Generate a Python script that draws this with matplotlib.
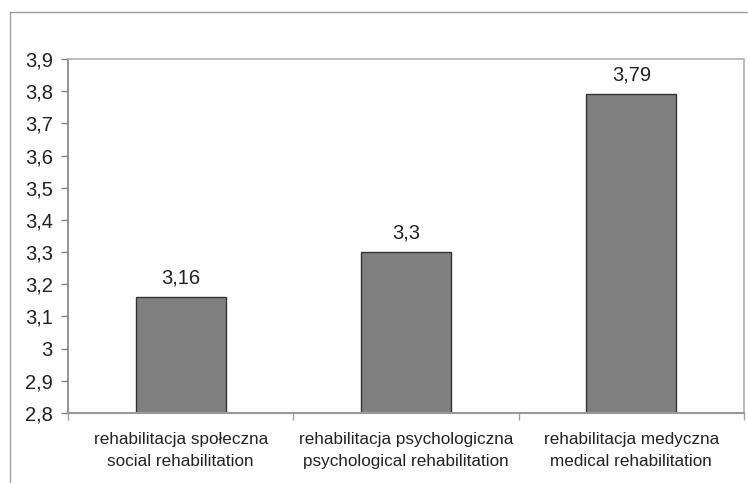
import matplotlib
matplotlib.use("Agg")
import matplotlib.pyplot as plt
from matplotlib.lines import Line2D
from matplotlib.ticker import FixedLocator

plt.rcParams['font.family'] = ['Liberation Sans', 'DejaVu Sans']

categories = ["rehabilitacja społeczna\nsocial rehabilitation",
              "rehabilitacja psychologiczna\npsychological rehabilitation",
              "rehabilitacja medyczna\nmedical rehabilitation"]
values = [3.16, 3.3, 3.79]
value_labels = ["3,16", "3,3", "3,79"]
y_ticks = [2.8, 2.9, 3.0, 3.1, 3.2, 3.3, 3.4, 3.5, 3.6, 3.7, 3.8, 3.9]
y_tick_labels = ["2,8", "2,9", "3", "3,1", "3,2", "3,3", "3,4", "3,5", "3,6", "3,7", "3,8", "3,9"]

fig = plt.figure(figsize=(7.48, 4.83), dpi=100)
ax = fig.add_axes([68/748, 1-413/483, (744-68)/748, (413-59)/483])

x = list(range(len(categories)))
bars = ax.bar(x, values, width=0.4, bottom=0, color="#808080",
              edgecolor="#333333", linewidth=1.0, zorder=2)
ax.set_ylim(2.8, 3.9)
ax.set_xlim(-0.5, len(categories) - 0.5)

ax.set_yticks(y_ticks)
ax.set_yticklabels(y_tick_labels, fontsize=14.5)
ax.set_xticks(x)
ax.set_xticklabels(categories, fontsize=12.3, linespacing=1.55)
ax.tick_params(axis='x', which='major', length=0, pad=14, colors='#222222')
ax.tick_params(axis='y', which='major', length=5, width=1, color='#808080',
               labelcolor='#222222', pad=6)
ax.xaxis.set_minor_locator(FixedLocator([-0.5, 0.5, 1.5, 2.5]))
ax.tick_params(axis='x', which='minor', length=5, width=1, color='#a0a0a0')

ax.spines['left'].set_color('#808080')
ax.spines['left'].set_linewidth(1.2)
ax.spines['bottom'].set_color('#999999')
ax.spines['bottom'].set_linewidth(1.5)
for sp in ['top', 'right']:
    ax.spines[sp].set_color('#b0b0b0')
    ax.spines[sp].set_linewidth(1.2)

for xi, v, lab in zip(x, values, value_labels):
    ax.annotate(lab, (xi, v), xytext=(0, 7), textcoords='offset points',
                ha='center', va='bottom', fontsize=14.5, color='#222222')

# outer chart frame (partially cropped)
fig.add_artist(Line2D([10/748, 1.0], [1-12/483, 1-12/483], transform=fig.transFigure,
                      color='#a0a0a0', linewidth=1.0))
fig.add_artist(Line2D([10/748, 10/748], [1-12/483, 0.0], transform=fig.transFigure,
                      color='#a0a0a0', linewidth=1.0))

fig.savefig("out.png", dpi=100)
